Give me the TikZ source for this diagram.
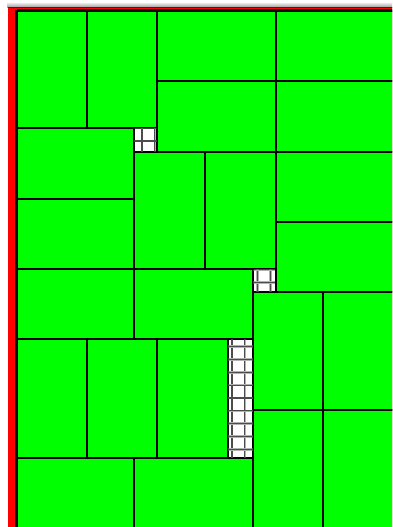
\documentclass[tikz,border=0pt]{standalone}
\usepackage{tikz}
\tikzset{
piece/.style={draw=black,fill=green,line width=1.2pt},
cut/.style={draw=black,line width=2.4pt},
waste/.style={draw=black,fill=white,line width=1.2pt},
gridhalo/.style={draw=black!30,line width=2.6pt},
gridline/.style={draw=black!70,line width=1.1pt}
}
\begin{document}
\begin{tikzpicture}[x=1pt,y=-1pt]
\useasboundingbox (0,0) rectangle (392,527);
\clip (0,0) rectangle (392,527);
\fill[white](0,0)rectangle(392,527);
\shade[top color=gray!25,bottom color=gray!80](7,3.5)rectangle(400,7.5);
\fill[red](8,7.5)rectangle(400,540);
\draw[red!55!black,line width=0.8pt](8,7.9)--(400,7.9);
% pieces
\foreach \xa/\ya/\xb/\yb in {17/11/87/128,87/11/157/128,157/11/276/81,276/11/400/81,
157/81/276/152,276/81/400/152,17/128/134/199,134/152/205/269,205/152/276/269,
276/152/400/222,17/199/134/269,276/222/400/292,17/269/134/339,134/269/253/339,
253/292/323/410,323/292/400/410,17/339/87/458,87/339/157/458,157/339/228/458,
17/458/134/540,134/458/253/540,253/410/323/540,323/410/400/540}
\draw[piece](\xa,\ya)rectangle(\xb,\yb);
% waste
\foreach \xa/\ya/\xb/\yb in {134/128/157/152,253/269/276/292,228/339/253/458}
\draw[waste](\xa,\ya)rectangle(\xb,\yb);
\begin{scope}
\clip(134.6,128.6)rectangle(156.4,151.4)(253.6,269.6)rectangle(275.4,291.4)(228.6,339.6)rectangle(252.4,457.4);
\foreach \i in {0,...,10}{
\draw[gridhalo](142+\i*12.85,100)--(142+\i*12.85,470);
\draw[gridline](142+\i*12.85,100)--(142+\i*12.85,470);}
\foreach \j in {-2,...,26}{
\draw[gridhalo](120,141+\j*12.85)--(290,141+\j*12.85);
\draw[gridline](120,141+\j*12.85)--(290,141+\j*12.85);}
\end{scope}
% cuts
\draw[cut](16.5,10.5)--(400,10.5);
\draw[cut](16.5,10.5)--(16.5,540);
\draw[cut](17,128)--(134,128);
\draw[cut](134,152)--(134,339);
\draw[cut](17,199)--(134,199);
\draw[cut](17,269)--(253,269);
\draw[cut](205,152)--(205,269);
\draw[cut](276,11)--(276,292);
\draw[cut](17,339)--(228,339);
\draw[cut](253,410)--(400,410);
\draw[cut](134,458)--(134,540);
\end{tikzpicture}
\end{document}
